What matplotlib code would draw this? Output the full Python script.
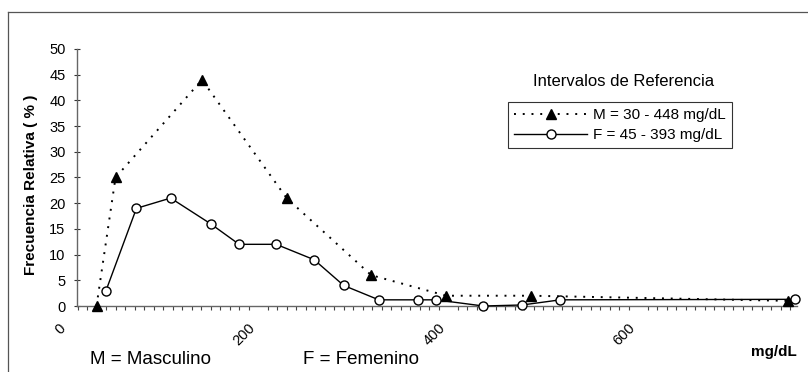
import numpy as np
import matplotlib
matplotlib.use("Agg")
import matplotlib.pyplot as plt
from matplotlib.lines import Line2D

plt.rcParams['font.family'] = ['Liberation Sans', 'DejaVu Sans']

# frecuencias relativas (%) por nivel en mg/dL
masc_x = [30, 50, 141, 230, 319, 398, 487, 758]
masc_y = [0, 25, 44, 21, 6, 2, 2, 1]
fem_x = [40, 72, 108, 150, 180, 219, 259, 290, 327, 368, 387, 437, 478, 518, 765]
fem_y = [3, 19, 21, 16, 12, 12, 9, 4, 1.2, 1.2, 1.2, 0, 0.2, 1.2, 1.3]

etiq_masc = 'M = 30 - 448 mg/dL'
etiq_fem = 'F = 45 - 393 mg/dL'
x_ticks = [0, 200, 400, 600]
y_ticks = np.arange(0, 51, 5)

W, H = 808, 372
fig = plt.figure(figsize=(W / 100, H / 100), dpi=100)
ax = fig.add_axes([68 / W, 66 / H, (797 - 68) / W, (306 - 49) / H])

ax.plot(masc_x, masc_y, color='black', linestyle=(0, (1, 3.5)), linewidth=1.4,
        marker='^', markersize=7, markerfacecolor='black', markeredgecolor='black',
        clip_on=False, label=etiq_masc, zorder=3)
ax.plot(fem_x, fem_y, color='black', linestyle='-', linewidth=1.0,
        marker='o', markersize=6.5, markerfacecolor='white', markeredgecolor='black',
        markeredgewidth=1.0, clip_on=False, label=etiq_fem, zorder=4)

ax.set_xlim(0, 767)
ax.set_ylim(0, 50)

# ejes estilo hoja de calculo
ax.spines['top'].set_visible(False)
ax.spines['right'].set_visible(False)
ax.spines['left'].set_position(('data', 9.5))
ax.spines['bottom'].set_bounds(9.5, 767)
for s in ['left', 'bottom']:
    ax.spines[s].set_color('#666666')
    ax.spines[s].set_linewidth(1.0)

ax.set_yticks(y_ticks)
ax.tick_params(axis='y', direction='inout', length=4.5, width=0.8, colors='#333333',
               labelcolor='black', labelsize=10.5, pad=6)

ax.set_xticks(x_ticks)
ax.set_xticklabels([str(v) for v in x_ticks], rotation=45, ha='right', va='top')
ax.set_xticks(np.arange(10, 770, 10), minor=True)
ax.tick_params(axis='x', which='major', length=0, labelsize=10.5, pad=11)
ax.tick_params(axis='x', which='minor', direction='out', length=3, width=0.8,
               colors='#444444')

fig.text(31 / W, 1 - 185 / H, 'Frecuencia Relativa ( % )', rotation=90,
         ha='center', va='center', fontsize=11, fontweight='bold')

fig.text(624 / W, 1 - 82 / H, 'Intervalos de Referencia', ha='center', va='center',
         fontsize=12)
leg = ax.legend(loc='upper left', bbox_to_anchor=(508 / W, 1 - 102 / H),
                bbox_transform=fig.transFigure, fontsize=11, frameon=True,
                fancybox=False, borderaxespad=0, handlelength=4.8, handletextpad=0.35,
                labelspacing=0.4, borderpad=0.4)
leg.get_frame().set_edgecolor('black')
leg.get_frame().set_linewidth(0.8)

fig.text(90 / W, 1 - 359 / H, 'M = Masculino', ha='left', va='center', fontsize=13.5)
fig.text(303 / W, 1 - 359 / H, 'F = Femenino', ha='left', va='center', fontsize=13.5)
fig.text(797 / W, 1 - 352 / H, 'mg/dL', ha='right', va='center', fontsize=11,
         fontweight='bold')

# marco del area del grafico
fig.add_artist(Line2D([8 / W, 1], [1 - 12 / H, 1 - 12 / H], color='#555555',
                      linewidth=0.9, transform=fig.transFigure))
fig.add_artist(Line2D([8 / W, 8 / W], [0, 1 - 12 / H], color='#555555',
                      linewidth=0.9, transform=fig.transFigure))

fig.savefig('out.png', dpi=100)
